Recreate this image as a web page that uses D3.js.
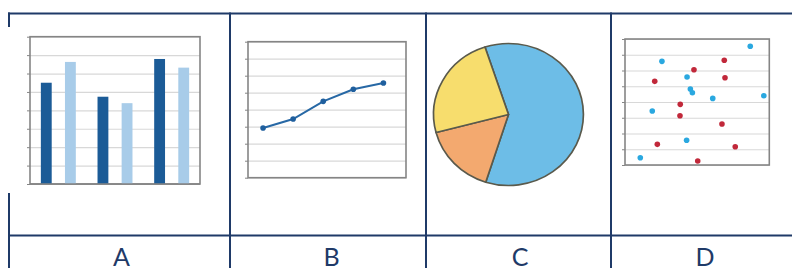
<!DOCTYPE html>
<html><head><meta charset="utf-8">
<script src="https://cdn.jsdelivr.net/npm/d3@7"></script>
<style>body{margin:0;background:#fff}svg{display:block}</style>
</head><body>
<svg id="c" width="792" height="268"></svg>
<script>
// ---- data ----
const panelLabels = ["A", "B", "C", "D"];
const barCategories = ["G1", "G2", "G3"];
const barSeriesDark = [5.5, 4.74, 6.79];
const barSeriesLight = [6.63, 4.39, 6.32];
const lineX = [1, 2, 3, 4, 5];
const lineY = [2.92, 3.45, 4.49, 5.2, 5.57];
const pieLabels = ["blue", "orange", "yellow"];
const pieValues = [60, 16, 24];
const scatterBlueX = [8.68, 2.56, 4.30, 4.53, 4.67, 6.08, 9.62, 1.89, 4.27, 1.06];
const scatterBlueY = [7.54, 6.58, 5.59, 4.83, 4.59, 4.23, 4.40, 3.43, 1.57, 0.46];
const scatterRedX = [6.88, 4.78, 2.06, 6.93, 3.83, 3.81, 6.72, 2.24, 7.64, 5.04];
const scatterRedY = [6.65, 6.05, 5.31, 5.54, 3.85, 3.13, 2.60, 1.31, 1.16, 0.25];
const yTicks = [0, 1, 2, 3, 4, 5, 6, 7, 8];

const svg = d3.select("#c");
const navy = "#1f3a68";
const frameCol = "#858585";
const gridCol = "#d8d8d8";

// ---- table lines ----
const tbl = svg.append("g");
tbl.append("line").attr("x1", 8).attr("x2", 792).attr("y1", 13.5).attr("y2", 13.5).attr("stroke", navy).attr("stroke-width", 2);
tbl.append("line").attr("x1", 8).attr("x2", 792).attr("y1", 235.5).attr("y2", 235.5).attr("stroke", navy).attr("stroke-width", 2);
[9, 230, 426, 611].forEach(x => {
  tbl.append("line").attr("x1", x).attr("x2", x).attr("y1", 12.5).attr("y2", 268).attr("stroke", navy).attr("stroke-width", 2);
});
// image background of bar chart covering part of left border
svg.append("rect").attr("x", 8).attr("y", 27).attr("width", 200).attr("height", 166).attr("fill", "#fff");

// labels
const labelX = [121.5, 331.5, 520, 705];
svg.selectAll("text.lbl").data(panelLabels).join("text")
  .attr("class", "lbl")
  .attr("x", (d, i) => labelX[i]).attr("y", 265.5)
  .attr("text-anchor", "middle")
  .attr("font-family", "Lato, 'Open Sans', sans-serif")
  .attr("font-size", 25).attr("fill", navy)
  .text(d => d);

function frame(g, x0, x1, y) {
  g.append("g").attr("transform", `translate(${x0},0)`)
    .call(d3.axisLeft(y).tickValues(yTicks).tickSize(-(x1 - x0)).tickFormat(""))
    .call(s => s.select(".domain").remove())
    .call(s => s.selectAll(".tick line").attr("stroke", gridCol).attr("stroke-width", 1.2));
  g.append("g").attr("transform", `translate(${x0},0)`)
    .call(d3.axisLeft(y).tickValues(yTicks).tickSize(3).tickFormat(""))
    .call(s => s.select(".domain").remove())
    .call(s => s.selectAll(".tick line").attr("stroke", frameCol).attr("stroke-width", 1));
  g.append("rect").attr("x", x0).attr("y", y(8)).attr("width", x1 - x0).attr("height", y(0) - y(8))
    .attr("fill", "none").attr("stroke", frameCol).attr("stroke-width", 1.6);
}

// ---- A: bar chart ----
{
  const g = svg.append("g");
  const x0 = 30, x1 = 200;
  const y = d3.scaleLinear().domain([0, 8]).range([184, 36.7]);
  frame(g, x0, x1, y);
  const xb = d3.scaleBand().domain(barCategories).range([x0, x1]).paddingInner(0.0).paddingOuter(0.0);
  const xs = d3.scaleBand().domain(["dark", "light"]).range([0, xb.bandwidth()]).paddingInner(0.55).paddingOuter(0.45);
  const series = [["dark", barSeriesDark, "#1b5b97"], ["light", barSeriesLight, "#a8cce9"]];
  series.forEach(([k, vals, col]) => {
    g.selectAll(null).data(vals).join("rect")
      .attr("x", (d, i) => xb(barCategories[i]) + xs(k))
      .attr("width", xs.bandwidth())
      .attr("y", d => y(d)).attr("height", d => y(0) - y(d))
      .attr("fill", col);
  });
  g.append("line").attr("x1", x0).attr("x2", x1).attr("y1", y(0)).attr("y2", y(0)).attr("stroke", frameCol).attr("stroke-width", 1.6);
}

// ---- B: line chart ----
{
  const g = svg.append("g");
  const x0 = 248, x1 = 406;
  const y = d3.scaleLinear().domain([0, 8]).range([177.7, 41.7]);
  const x = d3.scaleLinear().domain([0.5, 5.75]).range([x0, x1]);
  frame(g, x0, x1, y);
  const pts = lineX.map((d, i) => [d, lineY[i]]);
  g.append("path").datum(pts)
    .attr("d", d3.line().x(d => x(d[0])).y(d => y(d[1])))
    .attr("fill", "none").attr("stroke", "#2768a5").attr("stroke-width", 2);
  g.selectAll(null).data(pts).join("circle")
    .attr("cx", d => x(d[0])).attr("cy", d => y(d[1])).attr("r", 2.8).attr("fill", "#1f5f9e");
}

// ---- C: pie ----
{
  const cx = 508.5, cy = 114.5, r = 71;
  const g = svg.append("g").attr("transform", `translate(${cx},${cy}) scale(1.055,1)`);
  const colors = ["#6dbde7", "#f3a96f", "#f7dd6d"];
  const start = -18.3 * Math.PI / 180;
  const pie = d3.pie().sort(null).startAngle(start).endAngle(start + 2 * Math.PI);
  const arc = d3.arc().innerRadius(0).outerRadius(r);
  g.selectAll(null).data(pie(pieValues)).join("path")
    .attr("d", arc)
    .attr("fill", (d, i) => colors[i])
    .attr("stroke", "#5a5a4c").attr("stroke-width", 1.6).attr("stroke-linejoin", "round");
}

// ---- D: scatter ----
{
  const g = svg.append("g");
  const x0 = 625, x1 = 769.3;
  const y = d3.scaleLinear().domain([0, 8]).range([165, 39]);
  const x = d3.scaleLinear().domain([0, 10]).range([x0, x1]);
  frame(g, x0, x1, y);
  const red = scatterRedX.map((d, i) => [d, scatterRedY[i]]);
  const blue = scatterBlueX.map((d, i) => [d, scatterBlueY[i]]);
  g.selectAll(null).data(red).join("circle")
    .attr("cx", d => x(d[0])).attr("cy", d => y(d[1])).attr("r", 2.8).attr("fill", "#c1283a");
  g.selectAll(null).data(blue).join("circle")
    .attr("cx", d => x(d[0])).attr("cy", d => y(d[1])).attr("r", 2.8).attr("fill", "#2aa8e0");
}
</script>
</body></html>
